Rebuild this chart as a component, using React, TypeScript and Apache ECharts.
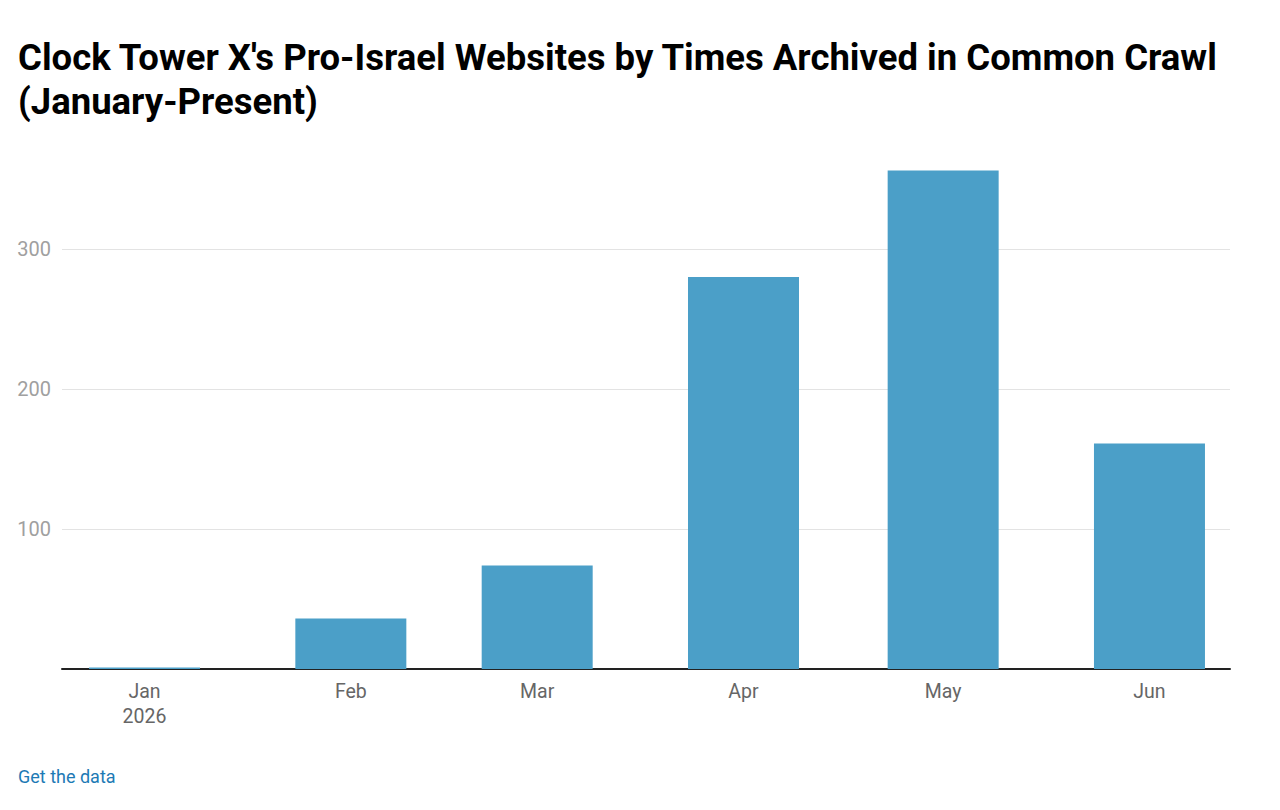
import React, { useEffect, useRef } from "react";
import * as echarts from "echarts";

const monthLabels = ["Jan\n2026", "Feb", "Mar", "Apr", "May", "Jun"];
const monthIndex = [0, 1, 2, 3, 4, 5];
const timesArchived = [1, 36, 74, 280, 356, 161];
const yTicks = [0, 100, 200, 300];

const DAY = 86400000;

export default function App() {
  const ref = useRef<HTMLDivElement>(null);
  useEffect(() => {
    document.body.style.margin = "0";
    const chart = echarts.init(ref.current!, undefined, { renderer: "svg" });
    const start = Date.UTC(2026, 0, 1);
    const offsets = monthIndex.map((m) => Math.round((Date.UTC(2026, m, 1) - start) / DAY));
    const data = offsets.map((t, i) => [t, timesArchived[i]]);
    chart.setOption({
      animation: false,
      backgroundColor: "#ffffff",
      title: {
        text: "Clock Tower X's Pro-Israel Websites by Times Archived in Common Crawl\n(January-Present)",
        left: 18,
        top: 35,
        padding: 0,
        textStyle: {
          fontFamily: "Roboto",
          fontWeight: "bold",
          fontSize: 36.5,
          lineHeight: 44,
          color: "#000000",
        },
      },
      graphic: [
        {
          type: "text",
          left: 18,
          top: 767,
          style: {
            text: "Get the data",
            fontFamily: "Roboto",
            fontSize: 18,
            fill: "#1d7ab5",
          },
        },
      ],
      grid: { left: 62, right: 50, top: 165, height: 504 },
      xAxis: {
        type: "value",
        min: offsets[0] - 12.4,
        max: offsets[5] + 12.1,
        axisLine: { show: true, onZero: false, lineStyle: { color: "#222222", width: 2 } },
        axisTick: { show: false },
        splitLine: { show: false },
        axisLabel: {
          customValues: offsets,
          fontFamily: "Roboto",
          fontSize: 19.5,
          lineHeight: 25,
          color: "#666666",
          margin: 10,
          formatter: (v: number) => {
            const i = offsets.indexOf(Math.round(v));
            return i >= 0 ? monthLabels[i] : "";
          },
        },
      },
      yAxis: {
        type: "value",
        min: 0,
        max: 360,
        interval: 100,
        axisLine: { show: false },
        axisTick: { show: false },
        splitLine: { show: true, showMaxLine: false, lineStyle: { color: "#e3e3e3", width: 1 } },
        axisLabel: {
          showMaxLabel: false,
          fontFamily: "Roboto",
          fontSize: 20,
          color: "#a0a0a0",
          margin: 11,
          formatter: (v: number) => (v === 0 || !yTicks.includes(v) ? "" : String(v)),
        },
      },
      series: [
        {
          type: "bar",
          data,
          barWidth: 111,
          itemStyle: { color: "#4b9fc8" },
        },
      ],
    });
    return () => chart.dispose();
  }, []);
  return <div ref={ref} style={{ width: 1280, height: 810 }} />;
}
